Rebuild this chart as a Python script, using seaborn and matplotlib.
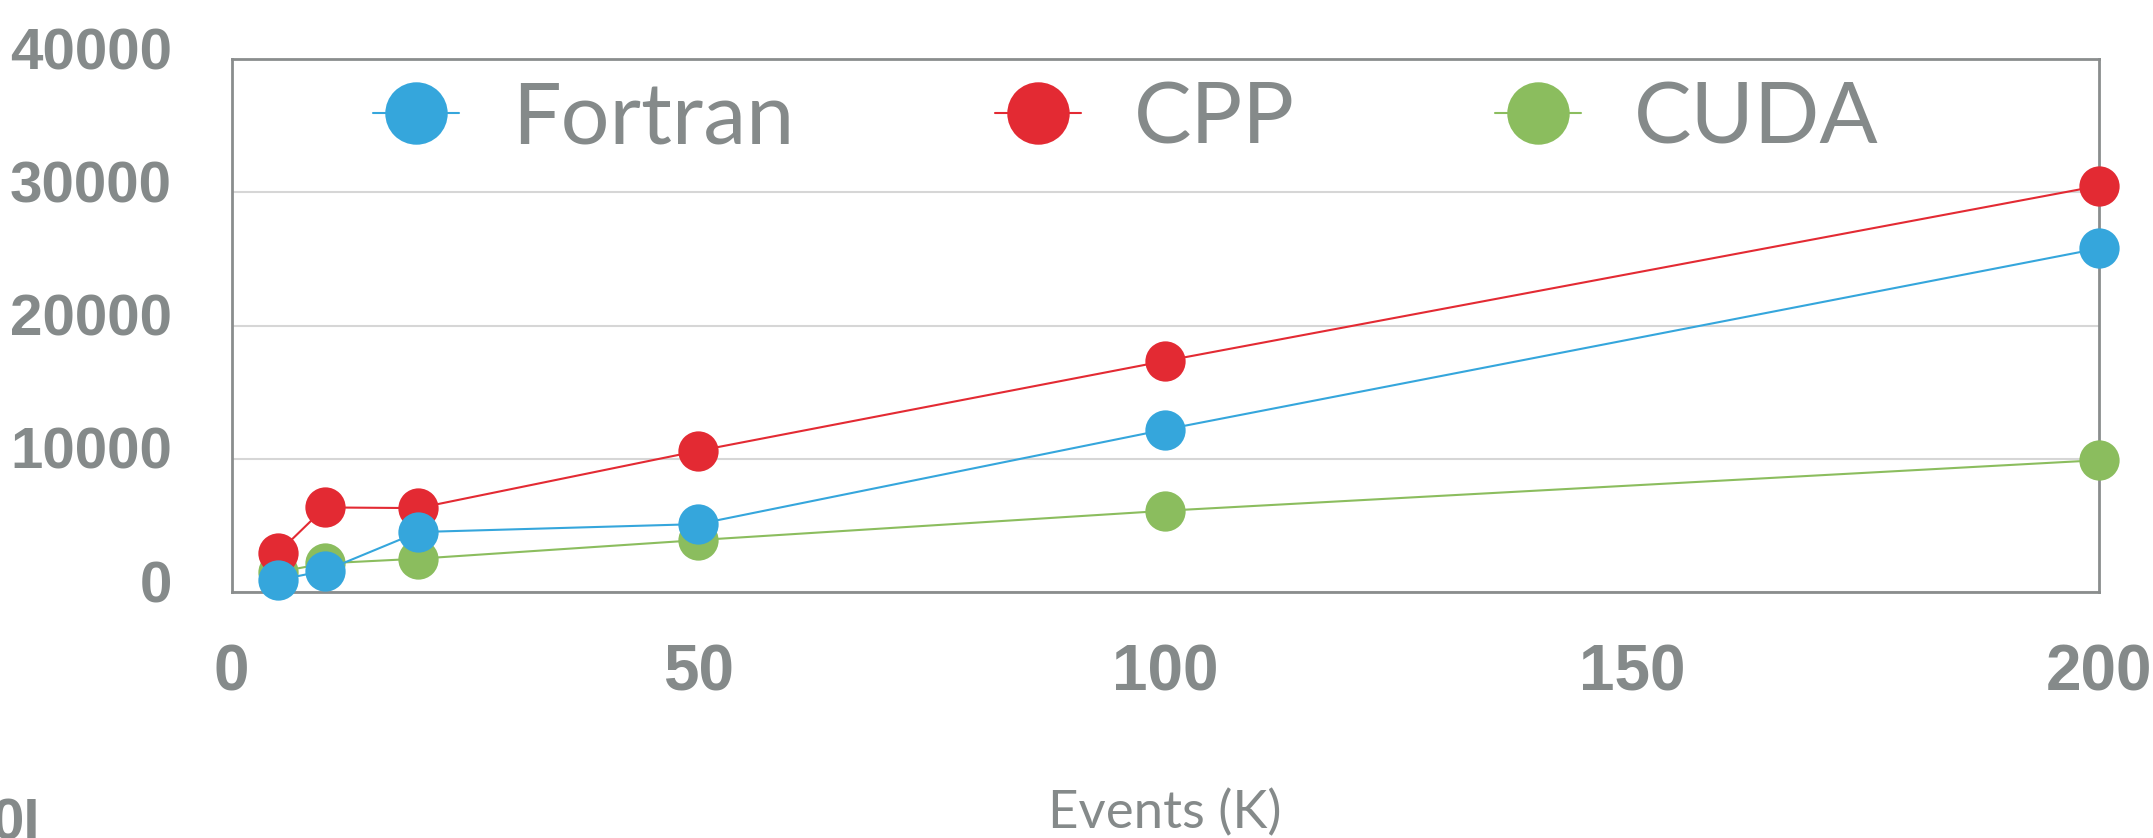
import matplotlib
matplotlib.use("Agg")
import matplotlib.pyplot as plt
import matplotlib.transforms as mtransforms
import seaborn as sns
import pandas as pd

# data
events = [5, 10, 20, 50, 100, 200]
fortran = [900, 1600, 4500, 5100, 12200, 25800]
cpp = [2950, 6350, 6300, 10600, 17350, 30500]
cuda = [1500, 2150, 2500, 3900, 6100, 9900]
y_ticks = [0, 10000, 20000, 30000, 40000]
x_ticks = [0, 50, 100, 150, 200]

GRAY = "#858a8a"
colors = {"Fortran": "#35a6dc", "CPP": "#e32a33", "CUDA": "#8bbd5e"}
NARROW = ["Liberation Sans", "DejaVu Sans"]

sns.set_style("white")
plt.rcParams["font.family"] = ["Lato", "DejaVu Sans"]

W, H = 2153, 838
fig = plt.figure(figsize=(W / 100, H / 100), dpi=100)
ax = fig.add_axes([231.5 / W, 1 - 592 / H, (2099 - 231.5) / W, (592 - 59.3) / H])

series = {"Fortran": fortran, "CPP": cpp, "CUDA": cuda}
order = {"CUDA": 3, "CPP": 4, "Fortran": 5}
for name in ["CUDA", "CPP", "Fortran"]:
    df = pd.DataFrame({"events": events, "time": series[name]})
    sns.lineplot(data=df, x="events", y="time", ax=ax, color=colors[name],
                 marker="o", markersize=29, markeredgewidth=0, linewidth=1.5,
                 label=name, zorder=order[name], clip_on=False)

ax.set_xlim(0, 200)
ax.set_ylim(0, 40000)
ax.set_xticks(x_ticks)
ax.set_yticks(y_ticks)
ax.set_xticklabels([str(v) for v in x_ticks], fontsize=46, fontweight="bold", family=NARROW)
ax.set_yticklabels([str(v) for v in y_ticks], fontsize=42, fontweight="bold", family=NARROW)
ax.tick_params(axis="both", length=0, labelcolor=GRAY)
ax.tick_params(axis="x", pad=37)
ax.tick_params(axis="y", pad=43)
ax.set_xlabel("")
ax.set_ylabel("")

# y labels sit a bit above their gridlines
shift = mtransforms.ScaledTranslation(0, 11 / 100, fig.dpi_scale_trans)
for lbl in ax.get_yticklabels():
    lbl.set_transform(lbl.get_transform() + shift)

ax.yaxis.grid(True, color="#d6d6d6", linewidth=1.5)
ax.xaxis.grid(False)
ax.set_axisbelow(True)
for sp in ax.spines.values():
    sp.set_visible(True)
    sp.set_color("#8a8d8d")
    sp.set_linewidth(2)

handles, labels = ax.get_legend_handles_labels()
lookup = dict(zip(labels, handles))
names = ["Fortran", "CPP", "CUDA"]
ax.legend([lookup[n] for n in names], names, loc="center left",
          bbox_to_anchor=(373 / W, 1 - 119 / H), bbox_transform=fig.transFigure,
          ncol=3, frameon=False, fontsize=62, markerscale=1.55,
          handlelength=1.0, handletextpad=0.62, columnspacing=2.32,
          borderpad=0, borderaxespad=0, labelcolor=GRAY)

fig.text(1165 / W, 10 / H, "Events (K)", ha="center", va="baseline",
         fontsize=38, color=GRAY)
# clipped text at the bottom-left edge of the original
fig.text(-8 / W, 41 / H, "0I", ha="left", va="top", fontsize=42,
         fontweight="bold", family=NARROW, color=GRAY)

fig.savefig("out.png", dpi=100)
